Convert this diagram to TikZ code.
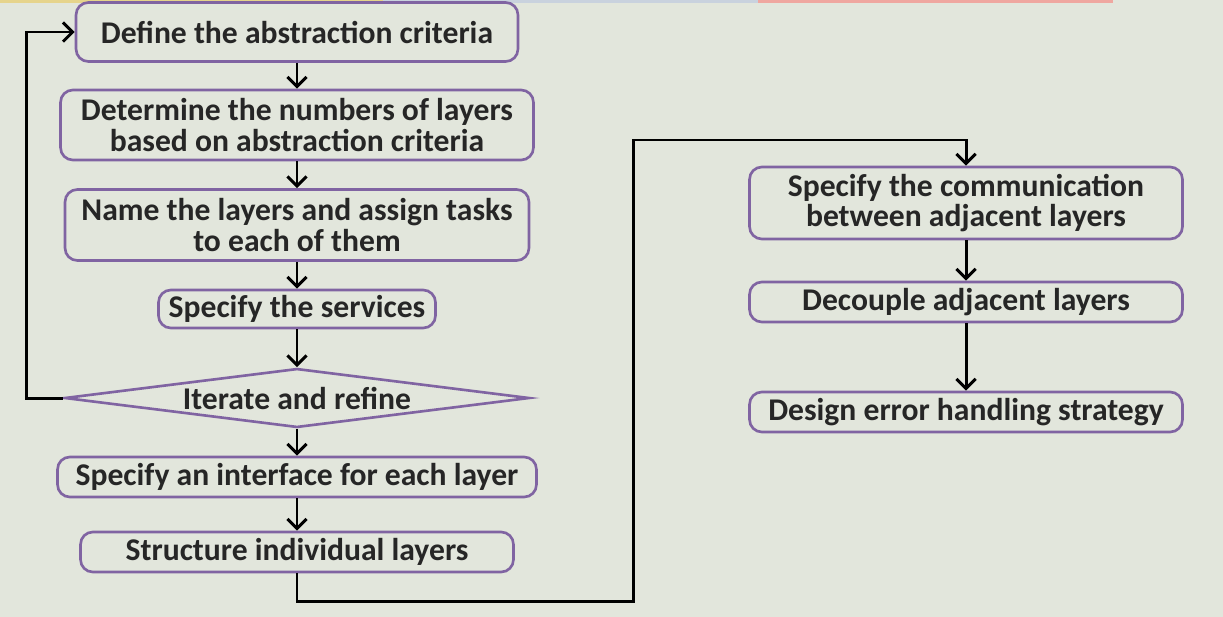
\documentclass[tikz,border=0pt]{standalone}
\usepackage{fontspec}
\setmainfont{Carlito}
\usetikzlibrary{shapes.geometric}
\usetikzlibrary{arrows.meta}

\definecolor{bgcol}{HTML}{E2E6DC}
\definecolor{boxline}{HTML}{8064A2}
\definecolor{stripA}{HTML}{E6D48C}
\definecolor{stripB}{HTML}{C9D2DE}
\definecolor{stripC}{HTML}{EFA7A0}

\tikzset{
  stepbox/.style={draw=boxline, line width=1.5pt, rounded corners=7pt,
    align=center, inner sep=0pt, text=black!85,
    font=\fontsize{18}{17.2}\selectfont\bfseries},
  choice/.style={stepbox, diamond, rounded corners=0pt, aspect=7.9},
  flow/.style={line width=1.7pt, -{Straight Barb[length=5.5pt,width=11pt]}},
}

\begin{document}
\begin{tikzpicture}[x=0.02cm,y=-0.02cm]
        \useasboundingbox (0,0) rectangle (1223,616);
        \fill[bgcol] (-5,-5) rectangle (1228,621);
        % strip at the top edge
        \fill[stripA] (-5,-5) rectangle (383,3);
        \fill[stripB] (383,-5) rectangle (758,3);
        \fill[stripC] (758,-5) rectangle (1113,3);

        % left column
        \node[stepbox, minimum width=8.84cm, minimum height=1.18cm] (def) at (297,32) {Define the abstraction criteria};
        \node[stepbox, minimum width=9.46cm, minimum height=1.4cm] (num) at (297,125) {Determine the numbers of layers\\based on abstraction criteria};
        \node[stepbox, minimum width=9.28cm, minimum height=1.42cm] (nam) at (297,225) {Name the layers and assign tasks\\to each of them};
        \node[stepbox, minimum width=5.54cm, minimum height=0.76cm] (srv) at (297,309) {Specify the services};
        \node[choice, minimum width=9.3cm, minimum height=1.18cm] (itr) at (297,398) {Iterate and refine};
        \node[stepbox, minimum width=9.58cm, minimum height=0.8cm] (ifc) at (297,477) {Specify an interface for each layer};
        \node[stepbox, minimum width=8.66cm, minimum height=0.8cm] (str) at (297,552) {Structure individual layers};

        % right column
        \node[stepbox, minimum width=8.66cm, minimum height=1.44cm] (com) at (966,203) {Specify the communication\\between adjacent layers};
        \node[stepbox, minimum width=8.66cm, minimum height=0.8cm] (dec) at (966,302) {Decouple adjacent layers};
        \node[stepbox, minimum width=8.66cm, minimum height=0.8cm] (err) at (966,412) {Design error handling strategy};

        \draw[flow] (def) -- (num);
        \draw[flow] (num) -- (nam);
        \draw[flow] (nam) -- (srv);
        \draw[flow] (srv) -- (itr);
        \draw[flow] (itr) -- (ifc);
        \draw[flow] (ifc) -- (str);
        \draw[flow] (com) -- (dec);
        \draw[flow] (dec) -- (err);

        % loop back and jump to second column
        \draw[flow] (itr.west) -- ++(-37,0) |- (def.west);
        \draw[flow] (str.south) -- ++(0,28) -- ++(336,0) |- (com.north |- 0,140) -- (com.north);
\end{tikzpicture}
\end{document}
